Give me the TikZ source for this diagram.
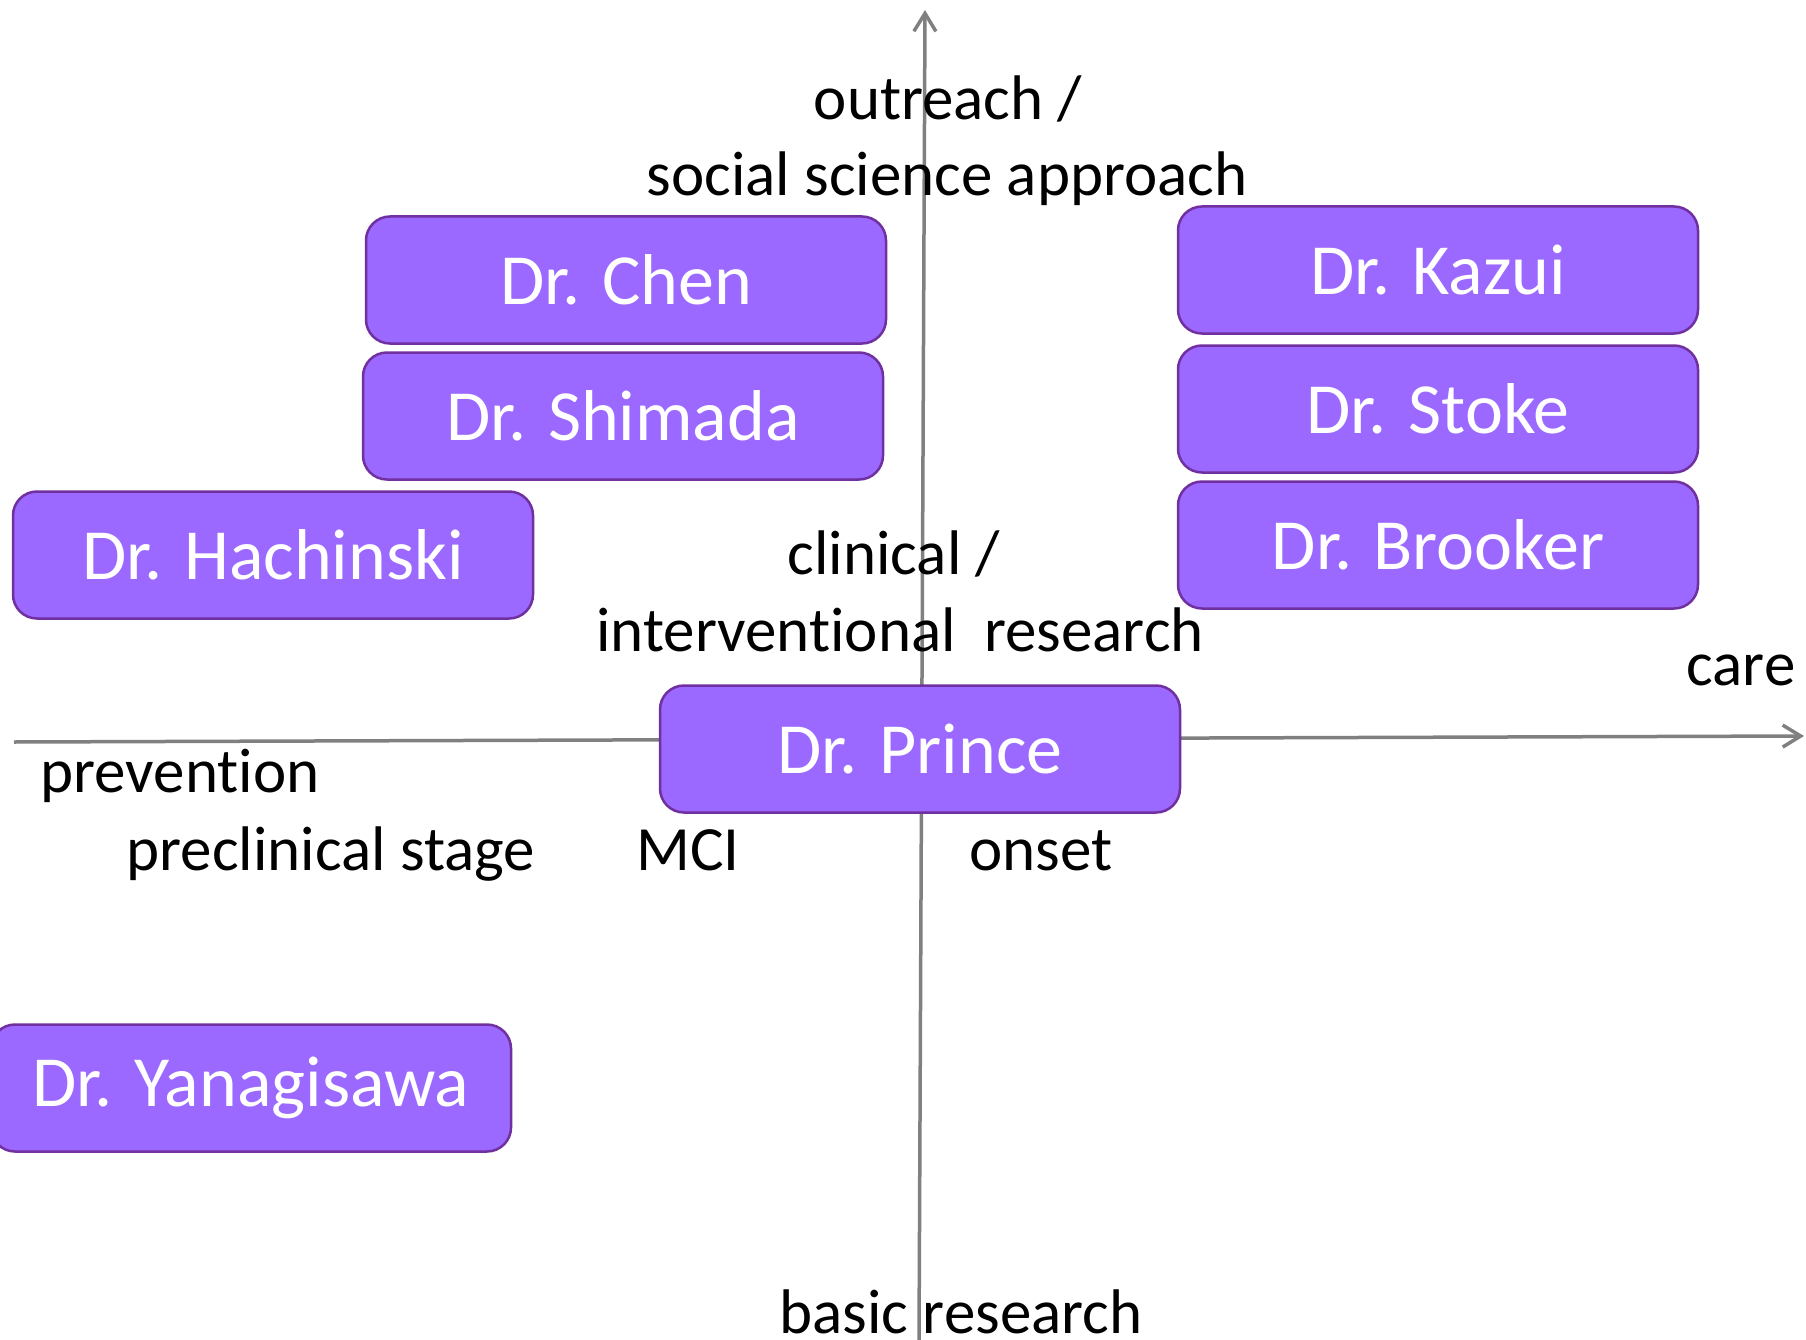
\documentclass[tikz,border=0pt]{standalone}
\usepackage{fontspec}
\setmainfont[Ligatures=NoCommon]{Carlito}
\usetikzlibrary{arrows.meta}
\definecolor{boxfill}{RGB}{155,105,255}
\definecolor{boxline}{RGB}{112,48,160}
\definecolor{axisgray}{RGB}{128,128,128}
\tikzset{
  person/.style={draw=boxline, fill=boxfill, line width=2.5pt, rounded corners=24pt,
    minimum width=520pt, minimum height=127pt, inner sep=0pt, text=white,
    font=\fontsize{72}{80}\selectfont},
  lbl/.style={anchor=base, inner sep=0pt, text=black, font=\fontsize{63}{72}\selectfont},
  axisline/.style={draw=axisgray, line width=3.5pt, -{Straight Barb[length=18pt,width=22pt]}}
}
\begin{document}
\begin{tikzpicture}[x=1pt,y=-1pt]
\useasboundingbox (0,0) rectangle (1806,1340);
% axes
\coordinate (vbot) at (919,1340);
\coordinate (vtop) at (925,10);
\coordinate (hleft) at (14,742);
\coordinate (hright) at (1804,736);
\draw[axisline] (vbot) -- (vtop);
\draw[axisline] (hleft) -- (hright);
% labels
\node[lbl] (outreach) at (948,120) {outreach /};
\node[lbl] (social) at (947,196) {social science approach};
\node[lbl] (clinical) at (894,574) {clinical /};
\node[lbl] (interv) at (900,651) {interventional\ \ research};
\node[lbl] (care) at (1741,685) {care};
\node[lbl] (prevention) at (180,792) {prevention};
\node[lbl] (preclin) at (331,870) {preclinical stage};
\node[lbl] (mci) at (688,870) {MCI};
\node[lbl] (onset) at (1041,870) {onset};
\node[lbl] (basic) at (961,1333) {basic research};
% boxes
\node[person] (chen) at (626,280) {Dr. Chen};
\node[person] (shimada) at (623,416) {Dr. Shimada};
\node[person] (hachinski) at (273,555) {Dr. Hachinski};
\node[person] (kazui) at (1438,270) {Dr. Kazui};
\node[person] (stoke) at (1438,409) {Dr. Stoke};
\node[person] (brooker) at (1438,545) {Dr. Brooker};
\node[person] (prince) at (920,749) {Dr. Prince};
\node[person] (yanagisawa) at (251,1088) {Dr. Yanagisawa};
\end{tikzpicture}
\end{document}
